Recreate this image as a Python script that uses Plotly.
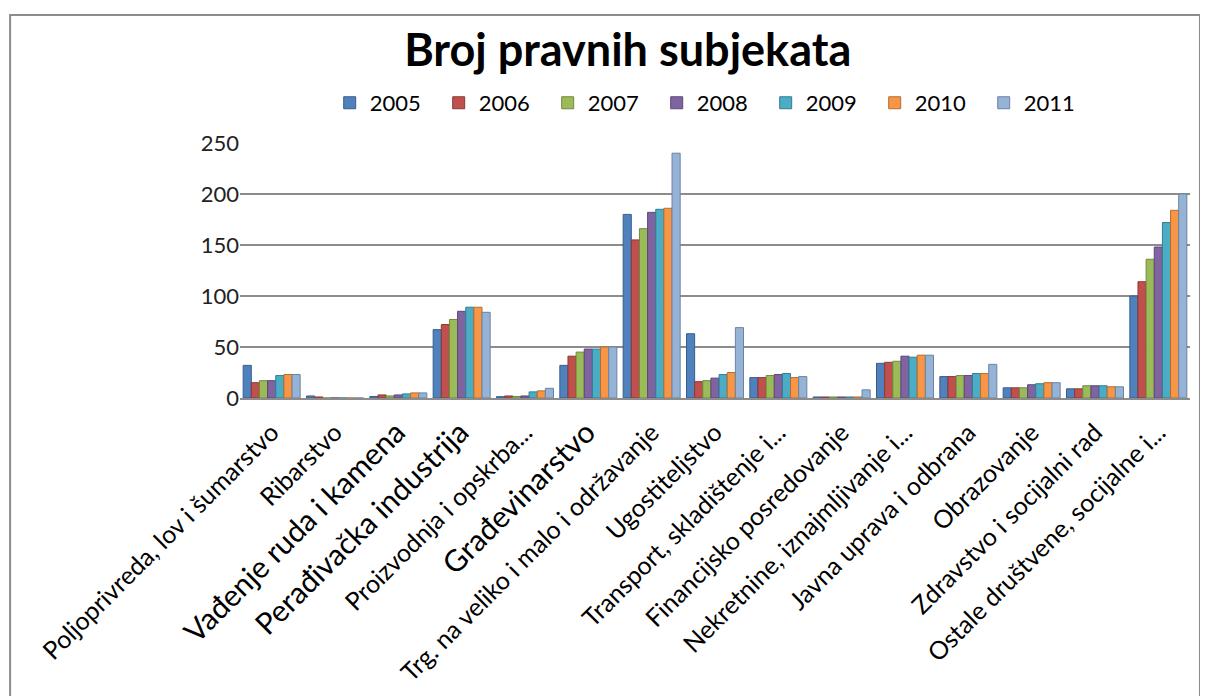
import plotly.graph_objects as go

# kategorije (djelatnosti)
kategorije = [
    "Poljoprivreda, lov i šumarstvo",
    "Ribarstvo",
    "Vađenje ruda i kamena",
    "Perađivačka industrija",
    "Proizvodnja i opskrba...",
    "Građevinarstvo",
    "Trg. na veliko i malo i održavanje",
    "Ugostiteljstvo",
    "Transport, skladištenje i...",
    "Financijsko posredovanje",
    "Nekretnine, iznajmljivanje i...",
    "Javna uprava i odbrana",
    "Obrazovanje",
    "Zdravstvo i socijalni rad",
    "Ostale društvene, socijalne i...",
]
# oznake koje su na originalu ispisane većim slovima
veca_slova = {"Vađenje ruda i kamena", "Perađivačka industrija", "Građevinarstvo"}

godine = ["2005", "2006", "2007", "2008", "2009", "2010", "2011"]

v2005 = [32, 2, 1.5, 67, 1.3, 32, 180, 63, 20, 1, 34, 21, 10, 9, 100]
v2006 = [15, 1, 3, 72, 2, 41, 155, 16, 20, 1, 35, 21, 10, 9, 114]
v2007 = [17, 0, 2, 77, 1.5, 45, 166, 17, 22, 1, 36, 22, 10, 12, 136]
v2008 = [17, 0, 3, 85, 2, 48, 182, 19.5, 23, 1, 41, 22, 13, 12, 148]
v2009 = [22, 0, 4, 89, 6, 48, 185, 23, 24, 1, 40, 24, 14, 12, 172]
v2010 = [23, 0, 5, 89, 7, 50, 186, 25, 20, 1, 42, 24, 15, 11, 184]
v2011 = [23, 0, 5, 84, 9.5, 50, 240, 69, 21, 8, 42, 33, 15, 11, 200]

vrijednosti = [v2005, v2006, v2007, v2008, v2009, v2010, v2011]
boje = ["#4F81BD", "#C0504D", "#9BBB59", "#8064A2", "#4BACC6", "#F79646", "#95B3D7"]
rubovi = ["#385D8A", "#8C3836", "#71893F", "#5C4776", "#357D91", "#B66D31", "#6D83A0"]

oznake = [
    f"<span style='font-size:30px'>{k}</span>" if k in veca_slova else k
    for k in kategorije
]

fig = go.Figure()
for god, vals, boja, rub in zip(godine, vrijednosti, boje, rubovi):
    fig.add_trace(go.Bar(
        x=kategorije, y=vals, name=god,
        marker=dict(color=boja, line=dict(color=rub, width=1)),
    ))

# ── Izgled ───────────────────────────────────────────────────
# (stranica ima 8 px margine, pa su margine pomaknute za toliko)
fig.update_layout(
    width=1208, height=696,
    paper_bgcolor="white", plot_bgcolor="white",
    margin=dict(l=232, r=26, t=135, b=306),
    barmode="group", bargap=0.1, bargroupgap=0,
    font=dict(family="Lato, Open Sans, sans-serif", color="#000000"),
    title=dict(
        text="<b>Broj pravnih subjekata</b>",
        x=0.513, xanchor="center", y=0.94, yanchor="middle",
        font=dict(size=45, family="Lato, Open Sans, sans-serif", color="#000000"),
    ),
    legend=dict(
        orientation="h", x=0.496, xanchor="center", y=1.157, yanchor="middle",
        font=dict(size=22, color="#000000"),
        itemwidth=30, entrywidth=64, entrywidthmode="pixels",
        traceorder="normal",
    ),
    showlegend=True,
)

fig.update_xaxes(
    tickangle=-45,
    tickmode="array", tickvals=kategorije, ticktext=oznake,
    tickfont=dict(size=25, color="#000000"),
    ticklabelstandoff=8,
    showline=True, linecolor="#8c8c8c", linewidth=2,
    showgrid=False,
)
fig.update_yaxes(
    range=[0, 250], dtick=50,
    tickfont=dict(size=22, color="#222222"),
    showgrid=True, gridcolor="#8c8c8c", gridwidth=2,
    zeroline=False, showline=False, ticks="",
)

# okvir oko grafikona
fig.add_shape(
    type="rect", xref="paper", yref="paper",
    x0=-0.242, x1=1.0105, y0=-1.25, y1=1.502,
    line=dict(color="#8c8c8c", width=2), fillcolor="rgba(0,0,0,0)",
    layer="below",
)

fig.write_html("out.html")
